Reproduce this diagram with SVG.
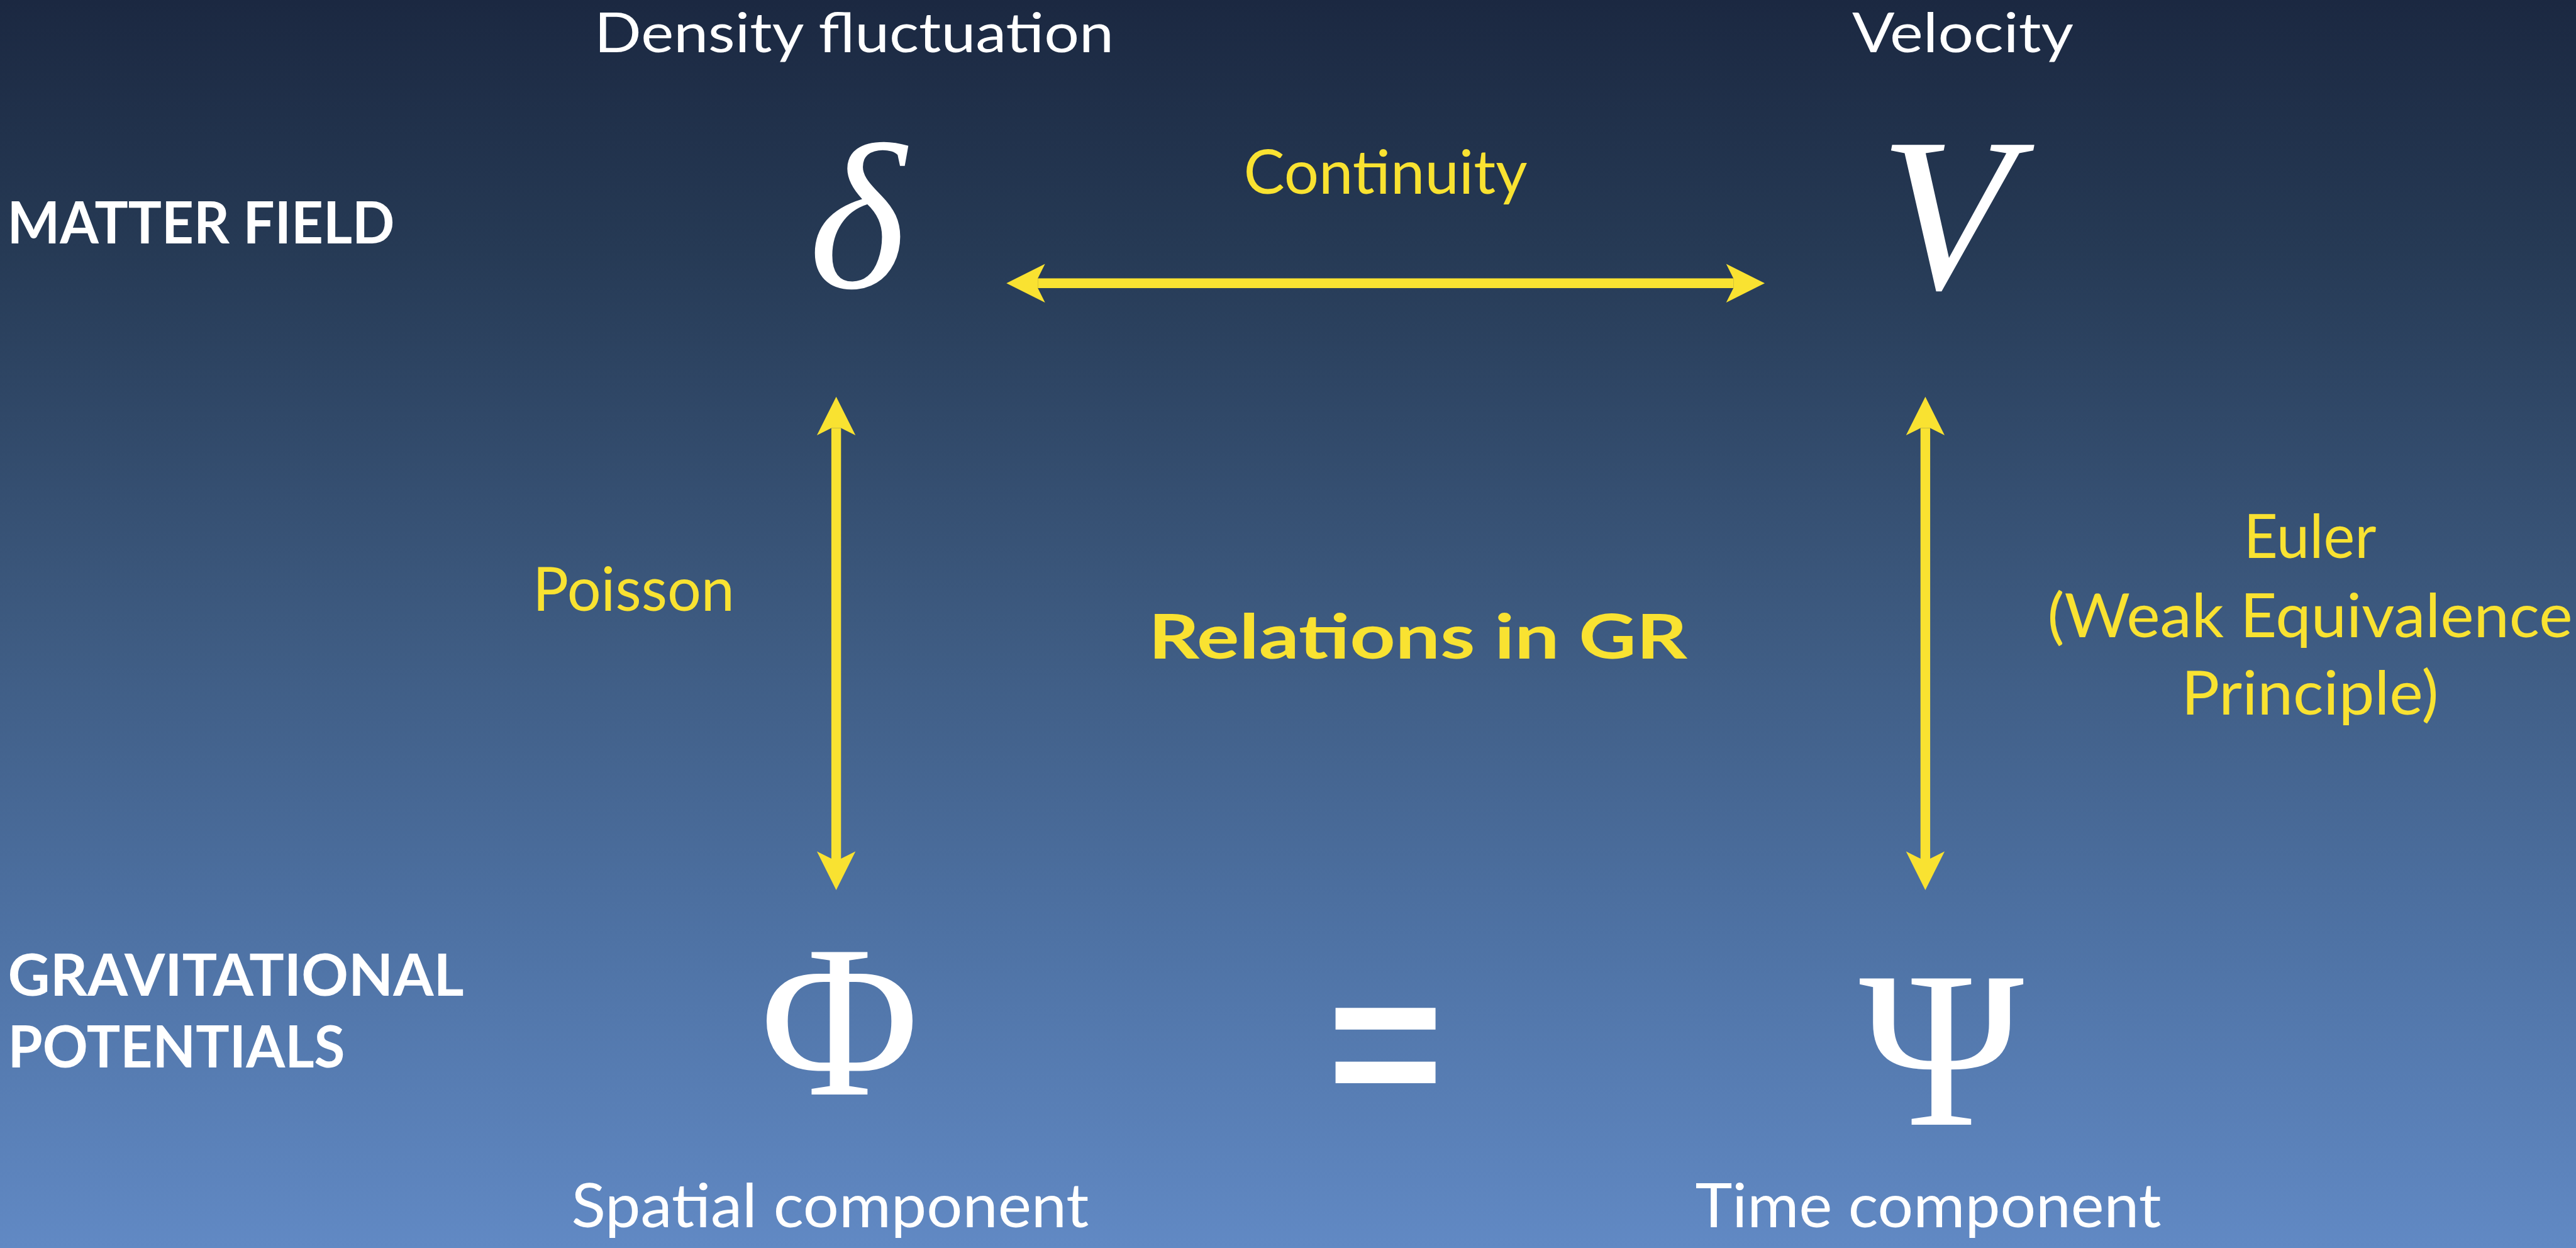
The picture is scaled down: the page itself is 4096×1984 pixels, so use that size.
<svg xmlns="http://www.w3.org/2000/svg" width="4096" height="1984" viewBox="0 0 4096 1984">
<style>
.lbl{font-family:Lato,"Open Sans","Liberation Sans",sans-serif;font-size:97px;fill:#ffffff}
.top{font-size:88px}
.yl{fill:#f9e231}
.hd{font-family:Lato,"Open Sans","Liberation Sans",sans-serif;font-weight:bold;font-size:91px;fill:#ffffff}
.sym{font-family:"Liberation Serif","DejaVu Serif",serif;fill:#ffffff}
.arr{stroke:#f9e231;stroke-width:15.4;fill:none;marker-start:url(#ah);marker-end:url(#ah)}
</style>
<defs>
<linearGradient id="bg" x1="0" y1="0" x2="0" y2="1">
<stop offset="0" stop-color="#1b2841"/>
<stop offset="0.2" stop-color="#263a55"/>
<stop offset="0.5" stop-color="#3d5a80"/>
<stop offset="0.75" stop-color="#4e72a4"/>
<stop offset="1" stop-color="#6189c4"/>
</linearGradient>
<marker id="ah" markerUnits="userSpaceOnUse" orient="auto-start-reverse" refX="0" refY="0" markerWidth="80" markerHeight="80" overflow="visible">
<path d="M49.9,0 L-11.5,-30.7 L0,-7.7 L0,7.7 L-11.5,30.7 Z" fill="#f9e231"/>
</marker>
</defs>
<rect x="0" y="0" width="4096" height="1984" fill="url(#bg)"/>

<g id="row-labels">
<text class="hd" x="11.5" y="387" textLength="616" lengthAdjust="spacingAndGlyphs">MATTER FIELD</text>
<text class="hd" x="12.5" y="1583" textLength="725" lengthAdjust="spacingAndGlyphs">GRAVITATIONAL</text>
<text class="hd" x="12.5" y="1697" textLength="536" lengthAdjust="spacingAndGlyphs">POTENTIALS</text>
</g>

<g id="node-delta">
<text class="lbl top" x="1358" y="83" text-anchor="middle" textLength="826" lengthAdjust="spacingAndGlyphs">Density fluctuation</text>
<text class="sym" x="1363" y="457" text-anchor="middle" font-size="331" font-style="italic">δ</text>
</g>

<g id="node-V">
<text class="lbl top" x="3121" y="83" text-anchor="middle" textLength="352" lengthAdjust="spacingAndGlyphs">Velocity</text>
<text class="sym" x="3095" y="458" text-anchor="middle" font-size="348" font-style="italic">V</text>
</g>

<g id="node-Phi">
<text class="sym" x="1335" y="1740" text-anchor="middle" font-size="346">Φ</text>
<text class="lbl" x="1320" y="1951" text-anchor="middle" textLength="823" lengthAdjust="spacingAndGlyphs">Spatial component</text>
</g>

<g id="node-Psi">
<text class="sym" x="3087" y="1788" text-anchor="middle" font-size="355">Ψ</text>
<text class="lbl" x="3066" y="1951" text-anchor="middle" textLength="741" lengthAdjust="spacingAndGlyphs">Time component</text>
</g>

<g id="equals">
<text x="2203" y="1767" text-anchor="middle" font-family="Liberation Sans,Arial,sans-serif" font-weight="bold" font-size="317" fill="#ffffff">=</text>
</g>

<g id="title">
<text class="lbl yl" x="1826" y="1047" font-weight="bold" font-size="124" textLength="857" lengthAdjust="spacingAndGlyphs">Relations in GR</text>
</g>

<g id="connectors">
<line class="arr" x1="1650.2" y1="450.2" x2="2756.2" y2="450.2"/>
<line class="arr" x1="1329.6" y1="680.6" x2="1329.6" y2="1365.1"/>
<line class="arr" x1="3061.4" y1="680.6" x2="3061.4" y2="1365.1"/>
<text class="lbl yl" x="2203" y="308" text-anchor="middle" textLength="451" lengthAdjust="spacingAndGlyphs">Continuity</text>
<text class="lbl yl" x="847" y="971" textLength="321" lengthAdjust="spacingAndGlyphs">Poisson</text>
<text class="lbl yl" x="3673" y="887" text-anchor="middle" textLength="211" lengthAdjust="spacingAndGlyphs">Euler</text>
<text class="lbl yl" x="3673" y="1013" text-anchor="middle" textLength="835" lengthAdjust="spacingAndGlyphs">(Weak Equivalence</text>
<text class="lbl yl" x="3673" y="1136" text-anchor="middle" textLength="409" lengthAdjust="spacingAndGlyphs">Principle)</text>
</g>
</svg>
